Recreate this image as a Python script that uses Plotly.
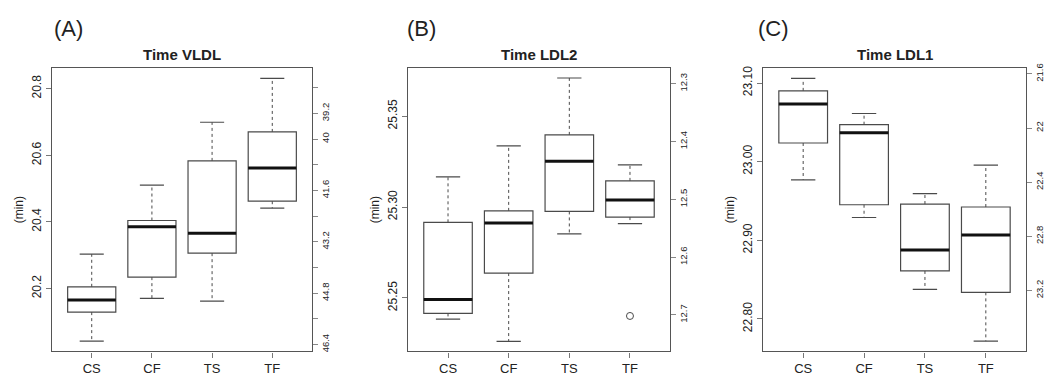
import plotly.graph_objects as go

# ---------------- data ----------------
categories = ["CS", "CF", "TS", "TF"]
cat_pos = [1, 2, 3, 4]

# Panel A: Time VLDL
vldl_lo = [20.042, 20.170, 20.162, 20.441]
vldl_q1 = [20.129, 20.234, 20.306, 20.462]
vldl_med = [20.165, 20.385, 20.366, 20.562]
vldl_q3 = [20.205, 20.404, 20.583, 20.670]
vldl_hi = [20.303, 20.510, 20.699, 20.831]
vldl_out_x = []
vldl_out_y = []

# Panel B: Time LDL2
ldl2_lo = [25.2384, 25.2261, 25.2853, 25.2909]
ldl2_q1 = [25.2415, 25.2637, 25.2976, 25.2945]
ldl2_med = [25.2491, 25.2912, 25.3252, 25.3039]
ldl2_q3 = [25.2916, 25.2979, 25.3397, 25.3144]
ldl2_hi = [25.3166, 25.3337, 25.3710, 25.3232]
ldl2_out_x = [4]
ldl2_out_y = [25.2401]

# Panel C: Time LDL1
ldl1_lo = [22.9769, 22.9290, 22.8376, 22.7717]
ldl1_q1 = [23.0237, 22.9452, 22.8610, 22.8338]
ldl1_med = [23.0733, 23.0366, 22.8876, 22.9068]
ldl1_q3 = [23.0900, 23.0470, 22.9461, 22.9423]
ldl1_hi = [23.1058, 23.0612, 22.9594, 22.9957]
ldl1_out_x = []
ldl1_out_y = []

# tick values / labels
vldl_left_ticks = [20.2, 20.4, 20.6, 20.8]
vldl_left_text = ["20.2", "20.4", "20.6", "20.8"]
vldl_right_ticks = [38.4, 39.2, 40.0, 40.8, 41.6, 42.4, 43.2, 44.0, 44.8, 45.6, 46.4]
vldl_right_text = ["", "39.2", "40", "", "41.6", "", "43.2", "", "44.8", "", "46.4"]

ldl2_left_ticks = [25.25, 25.30, 25.35]
ldl2_left_text = ["25.25", "25.30", "25.35"]
ldl2_right_ticks = [12.3, 12.4, 12.5, 12.6, 12.7]
ldl2_right_text = ["12.3", "12.4", "12.5", "12.6", "12.7"]

ldl1_left_ticks = [22.80, 22.90, 23.00, 23.10]
ldl1_left_text = ["22.80", "22.90", "23.00", "23.10"]
ldl1_right_ticks = [21.6, 22.0, 22.4, 22.8, 23.2]
ldl1_right_text = ["21.6", "22", "22.4", "22.8", "23.2"]

titles = ["Time VLDL", "Time LDL2", "Time LDL1"]
panel_labels = ["(A)", "(B)", "(C)"]

# ---------------- layout helpers ----------------
W, H = 1056, 378
FONT = "Liberation Sans, Arial, Helvetica, sans-serif"
TXT = "#222222"
FRAME = "#555555"
BOXC = "#4a4a4a"

panels = [
    dict(lo=vldl_lo, q1=vldl_q1, med=vldl_med, q3=vldl_q3, hi=vldl_hi,
         ox=vldl_out_x, oy=vldl_out_y,
         lt=vldl_left_ticks, ltt=vldl_left_text, rt=vldl_right_ticks, rtt=vldl_right_text,
         xpx=(52, 312), lrange=(20.011, 20.862), rrange=(46.615, 37.787), lab_px=52),
    dict(lo=ldl2_lo, q1=ldl2_q1, med=ldl2_med, q3=ldl2_q3, hi=ldl2_hi,
         ox=ldl2_out_x, oy=ldl2_out_y,
         lt=ldl2_left_ticks, ltt=ldl2_left_text, rt=ldl2_right_ticks, rtt=ldl2_right_text,
         xpx=(408, 670), lrange=(25.2206, 25.3765), rrange=(12.763, 12.2728), lab_px=405),
    dict(lo=ldl1_lo, q1=ldl1_q1, med=ldl1_med, q3=ldl1_q3, hi=ldl1_hi,
         ox=ldl1_out_x, oy=ldl1_out_y,
         lt=ldl1_left_ticks, ltt=ldl1_left_text, rt=ldl1_right_ticks, rtt=ldl1_right_text,
         xpx=(763, 1026), lrange=(22.7587, 23.1191), rrange=(23.651, 21.5564), lab_px=756),
]

ytop_px, ybot_px = 64, 352
ydom = [1 - ybot_px / H, 1 - ytop_px / H]

fig = go.Figure()
layout = dict(
    width=W, height=H,
    margin=dict(l=0, r=0, t=0, b=0),
    paper_bgcolor="white", plot_bgcolor="white",
    showlegend=False,
    font=dict(family=FONT, color=TXT, size=12),
    annotations=[],
)

BOXW = 0.8
CAPW = 0.4

for i, p in enumerate(panels):
    n = i + 1
    xa = "x" if n == 1 else f"x{n}"
    yl = "y" if n == 1 else f"y{2 * n - 1}"
    yr = f"y{2 * n}"
    xkey = "xaxis" if n == 1 else f"xaxis{n}"
    ylkey = "yaxis" if n == 1 else f"yaxis{2 * n - 1}"
    yrkey = f"yaxis{2 * n}"

    # box bodies
    fig.add_trace(go.Box(
        x=cat_pos, q1=p["q1"], median=p["med"], q3=p["q3"],
        lowerfence=p["q1"], upperfence=p["q3"],
        width=BOXW, whiskerwidth=0, boxpoints=False,
        fillcolor="white", line=dict(color=BOXC, width=1.2),
        xaxis=xa, yaxis=yl, hoverinfo="skip",
    ))

    # dashed whiskers
    wx, wy = [], []
    for c, q1, q3, lo, hi in zip(cat_pos, p["q1"], p["q3"], p["lo"], p["hi"]):
        wx += [c, c, None, c, c, None]
        wy += [q3, hi, None, q1, lo, None]
    fig.add_trace(go.Scatter(x=wx, y=wy, mode="lines", xaxis=xa, yaxis=yl,
                             line=dict(color=BOXC, width=1, dash="3px,3px"),
                             hoverinfo="skip"))
    # whisker caps
    cx, cy = [], []
    for c, lo, hi in zip(cat_pos, p["lo"], p["hi"]):
        cx += [c - CAPW / 2, c + CAPW / 2, None, c - CAPW / 2, c + CAPW / 2, None]
        cy += [hi, hi, None, lo, lo, None]
    fig.add_trace(go.Scatter(x=cx, y=cy, mode="lines", xaxis=xa, yaxis=yl,
                             line=dict(color=BOXC, width=1.2), hoverinfo="skip"))
    # medians
    mx, my = [], []
    for c, m in zip(cat_pos, p["med"]):
        mx += [c - BOXW / 2, c + BOXW / 2, None]
        my += [m, m, None]
    fig.add_trace(go.Scatter(x=mx, y=my, mode="lines", xaxis=xa, yaxis=yl,
                             line=dict(color="#111111", width=3), hoverinfo="skip"))
    # outliers
    if p["ox"]:
        fig.add_trace(go.Scatter(x=p["ox"], y=p["oy"], mode="markers", xaxis=xa, yaxis=yl,
                                 marker=dict(symbol="circle-open", size=7,
                                             color=BOXC, line=dict(width=1)),
                                 hoverinfo="skip"))
    # empty trace for right axis
    fig.add_trace(go.Scatter(x=[None], y=[None], mode="markers", xaxis=xa, yaxis=yr,
                             hoverinfo="skip"))

    xd = [p["xpx"][0] / W, p["xpx"][1] / W]
    layout[xkey] = dict(
        domain=xd, anchor=yl, range=[0.34, 4.66],
        tickvals=cat_pos, ticktext=categories,
        ticks="outside", ticklen=5, tickcolor="#777777", tickwidth=1,
        showline=True, mirror=True, linecolor=FRAME, linewidth=1.2,
        showgrid=False, zeroline=False, tickfont=dict(size=13),
        fixedrange=True,
    )
    layout[ylkey] = dict(
        domain=ydom, anchor=xa, range=list(p["lrange"]),
        tickvals=p["lt"], ticktext=p["ltt"], tickangle=-90,
        ticks="outside", ticklen=5, tickcolor="#777777", tickwidth=1,
        showline=True, mirror=True, linecolor=FRAME, linewidth=1.2,
        showgrid=False, zeroline=False, tickfont=dict(size=12),
        title=dict(text="(min)", font=dict(size=12), standoff=3),
        fixedrange=True,
    )
    layout[yrkey] = dict(
        overlaying=yl, side="right", anchor=xa, range=list(p["rrange"]),
        tickvals=p["rt"], ticktext=p["rtt"], tickangle=-90,
        ticks="outside", ticklen=5, tickcolor="#888888", tickwidth=1,
        showline=False, showgrid=False, zeroline=False,
        tickfont=dict(size=9.5), fixedrange=True,
    )

    layout["annotations"].append(dict(
        text=f"<b>{titles[i]}</b>", xref="paper", yref="paper",
        x=(xd[0] + xd[1]) / 2, y=1 - 50 / H, xanchor="center", yanchor="middle",
        showarrow=False, font=dict(size=15, color=TXT),
    ))
    layout["annotations"].append(dict(
        text=panel_labels[i], xref="paper", yref="paper",
        x=p["lab_px"] / W, y=1 - 24 / H, xanchor="left", yanchor="middle",
        showarrow=False, font=dict(size=22, color=TXT),
    ))

fig.update_layout(**layout)
fig.write_html("out.html")
